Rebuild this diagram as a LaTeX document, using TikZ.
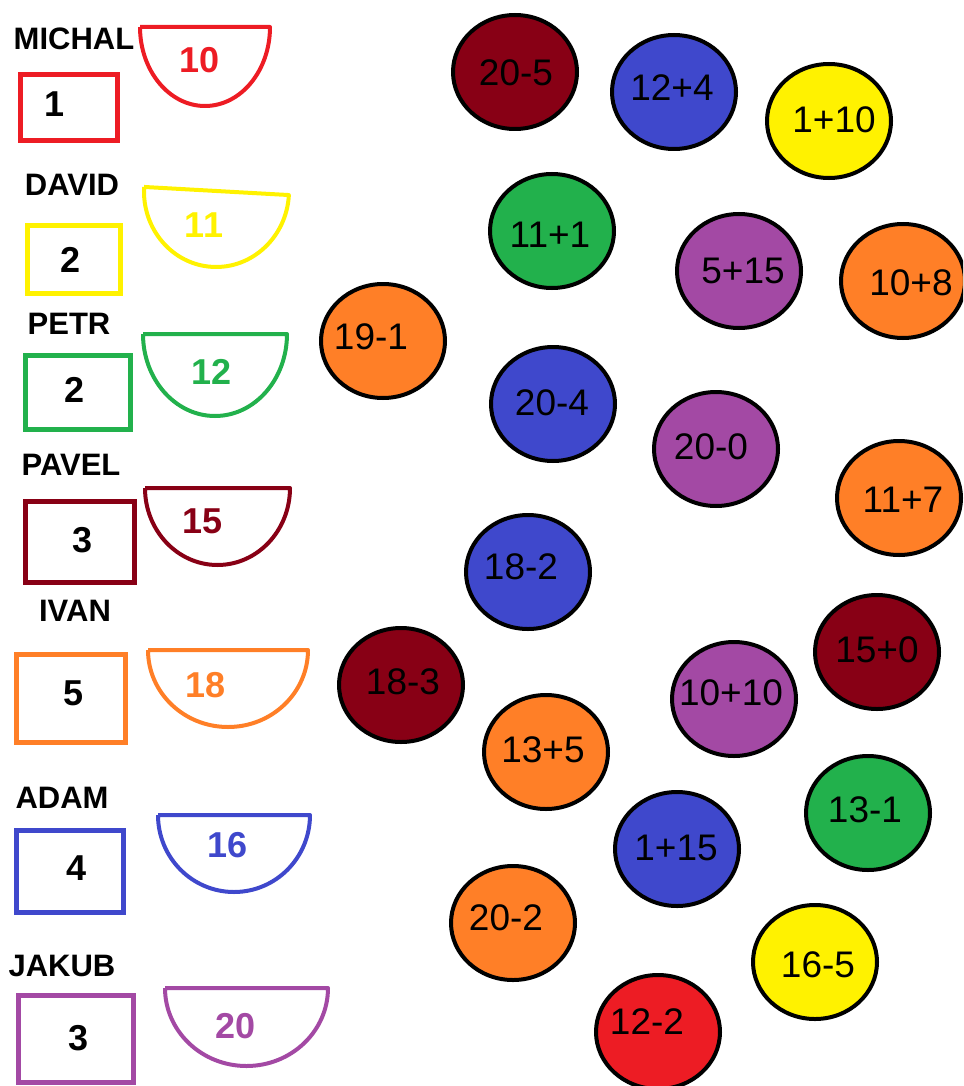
\documentclass[tikz,border=0pt]{standalone}
\usepackage{fontspec}
\setmainfont{Liberation Sans}
\usetikzlibrary{shapes.geometric}
\definecolor{cred}{HTML}{ED1C24}
\definecolor{cyellow}{HTML}{FFF200}
\definecolor{cgreen}{HTML}{22B14C}
\definecolor{cdark}{HTML}{880015}
\definecolor{corange}{HTML}{FF7F27}
\definecolor{cblue}{HTML}{3F48CC}
\definecolor{cpurple}{HTML}{A349A4}
\tikzset{
  namelabel/.style={inner sep=0pt, font=\fontsize{31}{31}\selectfont\bfseries},
  scorebox/.style={draw, rectangle, line width=5pt, inner sep=0pt},
  boxnum/.style={inner sep=0pt, font=\fontsize{36}{36}\selectfont\bfseries},
  bowlline/.style={line width=4pt, line join=round},
  bowlnum/.style={inner sep=0pt, font=\fontsize{36}{36}\selectfont\bfseries},
  ball/.style={draw=black, ellipse, line width=4pt, minimum width=124pt, minimum height=114pt, inner sep=0pt},
  balltext/.style={inner sep=0pt, font=\fontsize{37}{37}\selectfont},
}
\newcommand\mybowl[5]{% color, cx, topy, rx, ry
  \draw[bowlline, #1] ({#2-#4},-#3) -- ({#2+#4},-#3) arc[start angle=0, end angle=-180, x radius=#4pt, y radius=#5pt];}
\begin{document}
\begin{tikzpicture}[x=1pt,y=1pt]
\useasboundingbox (0,0) rectangle (963,-1086);
\clip (0,0) rectangle (963,-1086);
% ---- names
\node[namelabel] (nMichal) at (74,-38.5) {MICHAL};
\node[namelabel] (nDavid) at (72,-185) {DAVID};
\node[namelabel] (nPetr) at (69,-324) {PETR};
\node[namelabel] (nPavel) at (71,-465) {PAVEL};
\node[namelabel] (nIvan) at (75,-611) {IVAN};
\node[namelabel] (nAdam) at (62,-798) {ADAM};
\node[namelabel] (nJakub) at (62,-966) {JAKUB};
% ---- boxes
\node[scorebox, draw=cred, minimum width=97pt, minimum height=66pt] (bMichal) at (69,-107.5) {};
\node[scorebox, draw=cyellow, minimum width=93pt, minimum height=68pt] (bDavid) at (74,-259.5) {};
\node[scorebox, draw=cgreen, minimum width=105pt, minimum height=74pt] (bPetr) at (78,-392.5) {};
\node[scorebox, draw=cdark, minimum width=109pt, minimum height=81pt] (bPavel) at (80,-542) {};
\node[scorebox, draw=corange, minimum width=109pt, minimum height=88pt] (bIvan) at (71,-698.5) {};
\node[scorebox, draw=cblue, minimum width=107pt, minimum height=82pt] (bAdam) at (70,-871.5) {};
\node[scorebox, draw=cpurple, minimum width=115pt, minimum height=87pt] (bJakub) at (76,-1039) {};
\node[boxnum] (dMichal) at (55,-104) {1};
\node[boxnum] (dDavid) at (71,-260) {2};
\node[boxnum] (dPetr) at (75,-390) {2};
\node[boxnum] (dPavel) at (83,-540) {3};
\node[boxnum] (dIvan) at (74,-693) {5};
\node[boxnum] (dAdam) at (77,-868) {4};
\node[boxnum] (dJakub) at (79,-1038) {3};
% ---- bowls
\mybowl{cred}{205}{27}{65}{79}
\begin{scope}[shift={(216.5,-191)}, rotate=-3.2]
  \draw[bowlline, cyellow] (-72.5,0) -- (72.5,0) arc[start angle=0, end angle=-180, x radius=72.5pt, y radius=76pt];
\end{scope}
\mybowl{cgreen}{215}{334}{72}{82}
\mybowl{cdark}{217.5}{488}{72.5}{77}
\mybowl{corange}{228}{650}{80}{77}
\mybowl{cblue}{234}{815}{76}{77}
\mybowl{cpurple}{246.5}{988}{81.5}{78}
\node[bowlnum, text=cred] (wMichal) at (200,-60) {10};
\node[bowlnum, text=cyellow] (wDavid) at (204,-225) {11};
\node[bowlnum, text=cgreen] (wPetr) at (212,-372) {12};
\node[bowlnum, text=cdark] (wPavel) at (203,-521) {15};
\node[bowlnum, text=corange] (wIvan) at (206,-685) {18};
\node[bowlnum, text=cblue] (wAdam) at (228,-845) {16};
\node[bowlnum, text=cpurple] (wJakub) at (236,-1026) {20};
% ---- balls
\node[ball, fill=cdark] (c1) at (515,-72) {};
\node[balltext] (t1) at (516,-73) {20-5};
\node[ball, fill=cblue] (c2) at (674,-92) {};
\node[balltext] (t2) at (672,-88) {12+4};
\node[ball, fill=cyellow] (c3) at (829,-121) {};
\node[balltext] (t3) at (834,-120) {1+10};
\node[ball, fill=cgreen] (c4) at (552,-231) {};
\node[balltext] (t4) at (550,-235) {11+1};
\node[ball, fill=cpurple] (c5) at (739,-271) {};
\node[balltext] (t5) at (743,-271) {5+15};
\node[ball, fill=corange] (c6) at (903,-281) {};
\node[balltext] (t6) at (911,-283) {10+8};
\node[ball, fill=corange] (c7) at (383,-341) {};
\node[balltext] (t7) at (371,-337) {19-1};
\node[ball, fill=cblue] (c8) at (553,-404) {};
\node[balltext] (t8) at (552,-403) {20-4};
\node[ball, fill=cpurple] (c9) at (716,-449) {};
\node[balltext] (t9) at (711,-447) {20-0};
\node[ball, fill=corange] (c10) at (899,-498) {};
\node[balltext] (t10) at (903,-500) {11+7};
\node[ball, fill=cblue] (c11) at (528,-572) {};
\node[balltext] (t11) at (521,-567) {18-2};
\node[ball, fill=cdark] (c12) at (877,-652) {};
\node[balltext] (t12) at (877,-650) {15+0};
\node[ball, fill=cdark] (c13) at (401,-685) {};
\node[balltext] (t13) at (403,-682) {18-3};
\node[ball, fill=cpurple] (c14) at (734,-699) {};
\node[balltext] (t14) at (731,-693) {10+10};
\node[ball, fill=corange] (c15) at (546,-752) {};
\node[balltext] (t15) at (543,-750) {13+5};
\node[ball, fill=cgreen] (c16) at (868,-813) {};
\node[balltext] (t16) at (865,-810) {13-1};
\node[ball, fill=cblue] (c17) at (677,-849) {};
\node[balltext] (t17) at (676,-848) {1+15};
\node[ball, fill=corange] (c18) at (513,-923) {};
\node[balltext] (t18) at (506,-918) {20-2};
\node[ball, fill=cyellow] (c19) at (815,-962) {};
\node[balltext] (t19) at (818,-965) {16-5};
\node[ball, fill=cred] (c20) at (658,-1032) {};
\node[balltext] (t20) at (647,-1022) {12-2};
\end{tikzpicture}
\end{document}
